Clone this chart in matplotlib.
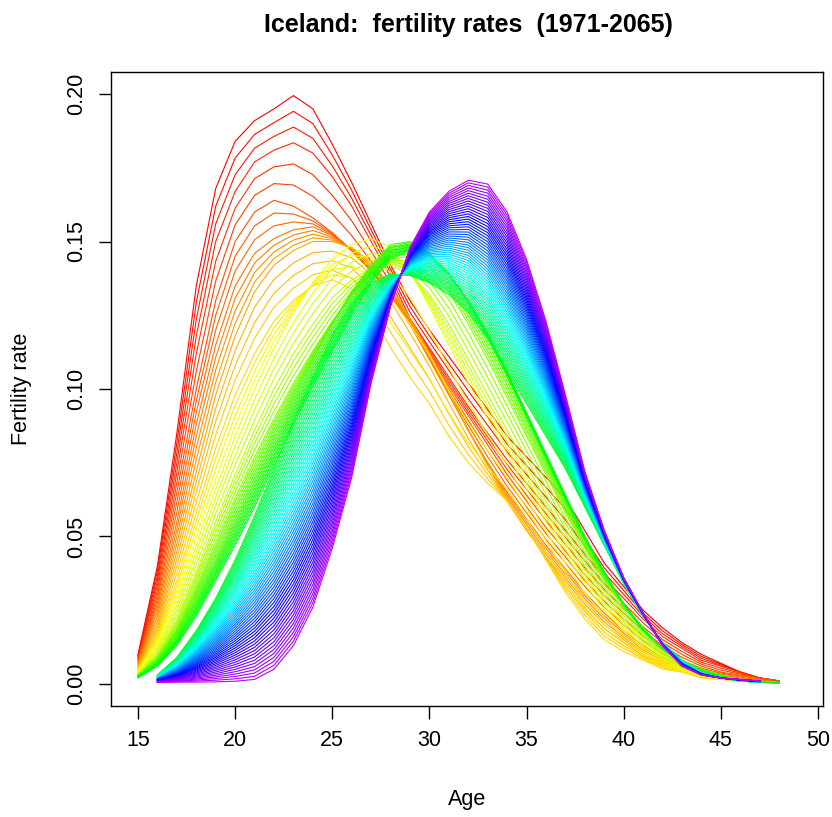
import numpy as np
import matplotlib
matplotlib.use("Agg")
import matplotlib.pyplot as plt
from matplotlib.colors import hsv_to_rgb

plt.rcParams['font.family'] = ['Liberation Sans', 'DejaVu Sans']

# ages
obs_ages = np.arange(15, 49)   # observed 15..48
fc_ages = np.arange(16, 48)    # forecast 16..47

obs_years = [1971, 1974, 1977, 1980, 1984, 1988, 1992, 1996, 2000, 2005, 2013]
f1971 = [0.010, 0.040, 0.085, 0.135, 0.168, 0.184, 0.191, 0.195, 0.1995, 0.195,
         0.183, 0.170, 0.156, 0.142, 0.130, 0.120, 0.111, 0.102, 0.093, 0.084,
         0.077, 0.070, 0.063, 0.052, 0.041, 0.033, 0.025, 0.019, 0.014, 0.010,
         0.007, 0.004, 0.002, 0.001]
f1974 = [0.009, 0.035, 0.075, 0.118, 0.150, 0.167, 0.177, 0.181, 0.1835, 0.180,
         0.172, 0.162, 0.150, 0.138, 0.124, 0.114, 0.104, 0.094, 0.085, 0.076,
         0.068, 0.060, 0.052, 0.044, 0.036, 0.029, 0.022, 0.016, 0.012, 0.008,
         0.006, 0.004, 0.002, 0.001]
f1977 = [0.008, 0.030, 0.065, 0.100, 0.130, 0.150, 0.160, 0.164, 0.162, 0.158,
         0.153, 0.147, 0.140, 0.132, 0.122, 0.112, 0.101, 0.091, 0.081, 0.071,
         0.062, 0.053, 0.045, 0.037, 0.030, 0.024, 0.018, 0.013, 0.009, 0.006,
         0.004, 0.003, 0.002, 0.001]
f1980 = [0.007, 0.026, 0.055, 0.088, 0.115, 0.135, 0.146, 0.151, 0.154, 0.155,
         0.152, 0.147, 0.140, 0.132, 0.122, 0.110, 0.098, 0.086, 0.075, 0.065,
         0.056, 0.047, 0.039, 0.031, 0.024, 0.018, 0.013, 0.009, 0.006, 0.004,
         0.003, 0.002, 0.001, 0.0005]
f1984 = [0.006, 0.020, 0.045, 0.072, 0.098, 0.118, 0.133, 0.142, 0.147, 0.150,
         0.150, 0.148, 0.143, 0.135, 0.124, 0.112, 0.099, 0.086, 0.074, 0.062,
         0.052, 0.043, 0.035, 0.027, 0.020, 0.015, 0.010, 0.007, 0.005, 0.003,
         0.002, 0.001, 0.0007, 0.0004]
f1988 = [0.005, 0.016, 0.035, 0.058, 0.080, 0.098, 0.112, 0.123, 0.130, 0.135,
         0.137, 0.134, 0.126, 0.114, 0.104, 0.095, 0.084, 0.075, 0.068, 0.062,
         0.053, 0.042, 0.031, 0.022, 0.015, 0.011, 0.008, 0.005, 0.004, 0.002,
         0.0015, 0.001, 0.0005, 0.0003]
f1992 = [0.004, 0.013, 0.028, 0.047, 0.066, 0.084, 0.100, 0.114, 0.126, 0.136,
         0.144, 0.149, 0.151, 0.148, 0.140, 0.128, 0.115, 0.102, 0.090, 0.078,
         0.066, 0.055, 0.044, 0.034, 0.025, 0.018, 0.012, 0.008, 0.005, 0.003,
         0.002, 0.001, 0.0006, 0.0003]
f1996 = [0.003, 0.010, 0.022, 0.038, 0.055, 0.071, 0.086, 0.100, 0.112, 0.122,
         0.131, 0.137, 0.141, 0.142, 0.139, 0.132, 0.122, 0.110, 0.098, 0.086,
         0.074, 0.062, 0.051, 0.040, 0.030, 0.022, 0.015, 0.010, 0.006, 0.004,
         0.002, 0.001, 0.0006, 0.0003]
f2000 = [0.003, 0.009, 0.019, 0.033, 0.048, 0.063, 0.077, 0.090, 0.102, 0.113,
         0.123, 0.132, 0.139, 0.144, 0.145, 0.141, 0.133, 0.122, 0.110, 0.097,
         0.084, 0.071, 0.058, 0.046, 0.035, 0.026, 0.018, 0.012, 0.007, 0.004,
         0.0025, 0.0015, 0.0008, 0.0004]
f2005 = [0.003, 0.008, 0.017, 0.029, 0.042, 0.056, 0.070, 0.084, 0.097, 0.110,
         0.122, 0.133, 0.142, 0.149, 0.150, 0.146, 0.139, 0.129, 0.117, 0.104,
         0.090, 0.076, 0.062, 0.049, 0.037, 0.027, 0.019, 0.012, 0.008, 0.005,
         0.003, 0.0015, 0.0008, 0.0004]
f2013 = [0.002, 0.006, 0.013, 0.023, 0.035, 0.047, 0.060, 0.074, 0.088, 0.101,
         0.113, 0.125, 0.136, 0.144, 0.147, 0.145, 0.139, 0.130, 0.119, 0.106,
         0.092, 0.078, 0.064, 0.050, 0.038, 0.027, 0.018, 0.012, 0.007, 0.004,
         0.002, 0.001, 0.0005, 0.0003]
obs_anchors = [f1971, f1974, f1977, f1980, f1984, f1988, f1992, f1996, f2000, f2005, f2013]

# forecast anchor curves, ages 16..47
fc_years = [2014, 2065]
f2014 = [0.003, 0.009, 0.018, 0.029, 0.042, 0.057, 0.073, 0.089, 0.104, 0.118,
         0.129, 0.136, 0.139, 0.1385, 0.136, 0.132, 0.126, 0.117, 0.106, 0.095,
         0.084, 0.073, 0.060, 0.047, 0.034, 0.023, 0.014, 0.008, 0.004, 0.002,
         0.001, 0.0005]
f2065 = [0.0005, 0.0006, 0.0006, 0.0007, 0.0009, 0.0015, 0.005, 0.013, 0.026, 0.046,
         0.070, 0.102, 0.128, 0.148, 0.160, 0.167, 0.1708, 0.1695, 0.160, 0.144,
         0.123, 0.098, 0.072, 0.052, 0.036, 0.024, 0.013, 0.006, 0.003, 0.002,
         0.0015, 0.001]
fc_anchors = [f2014, f2065]

years = np.arange(1971, 2066)

def year_curve(yr, anchor_years, anchors):
    a = np.array(anchors)
    return np.array([np.interp(yr, anchor_years, a[:, j]) for j in range(a.shape[1])])

fig = plt.figure(figsize=(8.32, 8.17), dpi=100)
ax = fig.add_axes([111/832, 1 - 706/817, 712/832, 634/817])

for i, yr in enumerate(years):
    col = hsv_to_rgb((i / 119, 1, 1))
    if yr <= 2013:
        ax.plot(obs_ages, year_curve(yr, obs_years, obs_anchors), color=col, lw=0.8)
    else:
        ax.plot(fc_ages, year_curve(yr, fc_years, fc_anchors), color=col, lw=0.8)

ax.set_xlim(13.61, 50.26)
ax.set_ylim(-0.0075, 0.2075)
ax.set_xticks([15, 20, 25, 30, 35, 40, 45, 50])
ax.set_yticks([0.0, 0.05, 0.10, 0.15, 0.20])
ax.set_yticklabels(['0.00', '0.05', '0.10', '0.15', '0.20'], rotation=90, va='center')
ax.tick_params(direction='out', length=9, width=1, labelsize=15.5, pad=8, colors='black')
for s in ax.spines.values():
    s.set_linewidth(1)
ax.set_xlabel('Age', fontsize=15.5, va='center')
ax.xaxis.set_label_coords(0.5, -94/634)
ax.set_ylabel('Fertility rate', fontsize=15.5, va='center')
ax.yaxis.set_label_coords(-89/712, 0.5)
fig.text(468/832, 1 - 25/817, 'Iceland:  fertility rates  (1971-2065)', ha='center', va='center',
         fontsize=18, fontweight='bold')

fig.savefig('out.png', dpi=100)
